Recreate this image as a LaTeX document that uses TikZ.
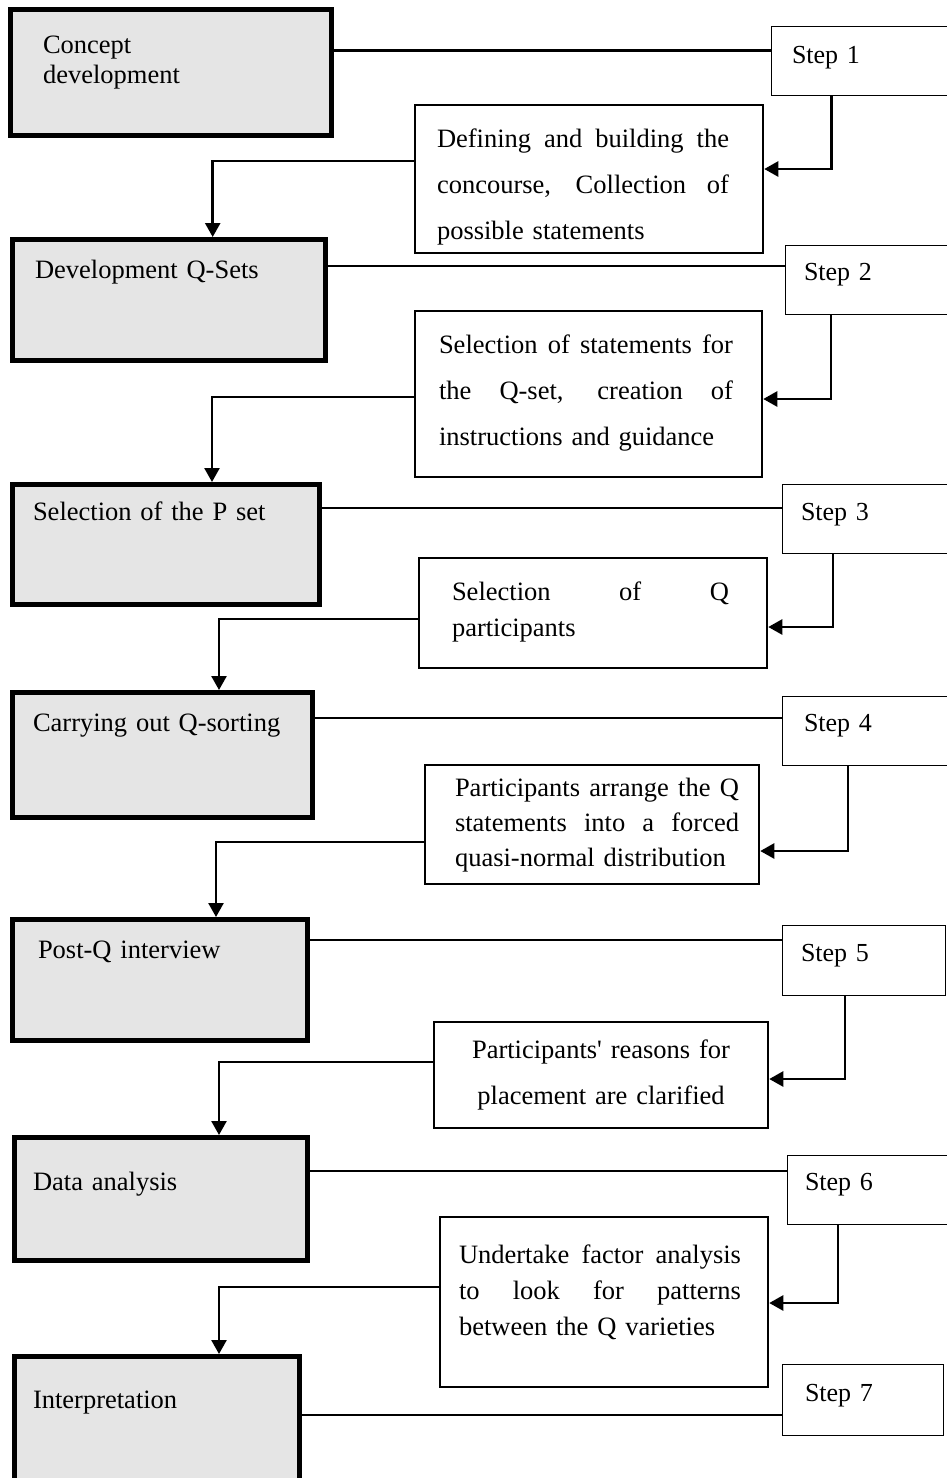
\documentclass[tikz,border=0pt]{standalone}
\usepackage{fontspec}
\setmainfont{Liberation Serif}[WordSpace=0.8]
\usetikzlibrary{arrows.meta}
\definecolor{stagegray}{RGB}{229,229,229}
\newcommand{\jline}[2]{\leavevmode\hbox to #1pt{\spaceskip=.2em plus 1fil\relax #2}}

\begin{document}
\begin{tikzpicture}[x=1pt, y=-1pt,
    stage/.style={draw, line width=5pt, fill=stagegray, anchor=north west, inner ysep=0pt, align=left, font=\fontsize{26.5}{30}\selectfont},
    stepbox/.style={draw, line width=1pt, fill=white, anchor=north west, inner ysep=0pt, align=left, font=\fontsize{26}{30}\selectfont},
    task/.style={draw, line width=2.5pt, fill=white, anchor=north west, inner ysep=0pt, align=left, font=\fontsize{26.5}{46}\selectfont},
    link/.style={line width=2.5pt},
    flow/.style={line width=2.5pt, -{Triangle[length=14pt, width=15pt]}}]
    \useasboundingbox (0,0) rectangle (947,1478);

    % Stages
    \node[stage, inner xsep=32.5pt, text width=256pt, text height=43.5pt, text depth=82.5pt] (g1) at (8,7) {Concept\\development};
    \node[stage, inner xsep=22.5pt, text width=268pt, text height=38.5pt, text depth=82.5pt] (g2) at (10,237) {Development Q-Sets};
    \node[stage, inner xsep=20.5pt, text width=266pt, text height=35.5pt, text depth=84.5pt] (g3) at (10,482) {Selection of the P set};
    \node[stage, inner xsep=20.5pt, text width=259pt, text height=38.5pt, text depth=86.5pt] (g4) at (10,690) {Carrying out Q-sorting};
    \node[stage, inner xsep=25.5pt, text width=244pt, text height=38.5pt, text depth=82.5pt] (g5) at (10,917) {Post-Q interview};
    \node[stage, inner xsep=18.5pt, text width=256pt, text height=52.5pt, text depth=70.5pt] (g6) at (12,1135) {Data analysis};
    \node[stage, inner xsep=18.5pt, text width=248pt, text height=51.5pt, text depth=78.5pt] (g7) at (12,1354) {Interpretation};

    % Steps
    \node[stepbox, inner xsep=20.5pt, text width=139pt, text height=37pt, text depth=32pt] (s1) at (771,25.5) {Step 1};
    \node[stepbox, inner xsep=18.5pt, text width=128pt, text height=34.5pt, text depth=34pt] (s2) at (785,245) {Step 2};
    \node[stepbox, inner xsep=19pt, text width=132pt, text height=36pt, text depth=33pt] (s3) at (781.5,483.5) {Step 3};
    \node[stepbox, inner xsep=22pt, text width=126pt, text height=35pt, text depth=34pt] (s4) at (781.5,695.5) {Step 4};
    \node[stepbox, inner xsep=19pt, text width=125pt, text height=36pt, text depth=34pt] (s5) at (781.5,924.5) {Step 5};
    \node[stepbox, inner xsep=18pt, text width=129pt, text height=35pt, text depth=34pt] (s6) at (786.5,1154.5) {Step 6};
    \node[stepbox, inner xsep=23pt, text width=115pt, text height=37pt, text depth=34pt] (s7) at (781.5,1363.5) {Step 7};

    % Tasks
    \node[task, inner xsep=22pt, text width=304pt, text height=42pt, text depth=106pt] (d1) at (413.75,103.75)
        {\jline{292}{Defining and building the}\\\jline{292}{concourse, Collection of}\\possible statements};
    \node[task, inner xsep=24pt, text width=299pt, text height=42pt, text depth=124pt] (d2) at (413.75,309.75)
        {\jline{294}{Selection of statements for}\\\jline{294}{the Q-set, creation of}\\instructions and guidance};
    \node[task, inner xsep=33pt, text width=282pt, text height=42pt, text depth=68pt, font=\fontsize{26.5}{36}\selectfont] (d3) at (417.75,556.75)
        {\jline{277}{Selection of Q}\\participants};
    \node[task, inner xsep=30pt, text width=274pt, text height=31pt, text depth=88pt, font=\fontsize{26.5}{35}\selectfont] (d4) at (423.75,763.75)
        {\jline{284}{Participants arrange the Q}\\\jline{284}{statements into a forced}\\quasi-normal distribution};
    \node[task, inner xsep=20pt, text width=294pt, text height=36pt, text depth=70pt, align=center] (d5) at (432.75,1020.75)
        {Participants\textquotesingle{} reasons for\\placement are clarified};
    \node[task, inner xsep=19pt, text width=290pt, text height=46pt, text depth=124pt, font=\fontsize{26.5}{36}\selectfont] (d6) at (438.75,1215.75)
        {\jline{282}{Undertake factor analysis}\\\jline{282}{to look for patterns}\\between the Q varieties};

    % Stage to step
    \draw[link] (g1.east |- 0,50.7) -- (s1.west |- 0,50.7);
    \draw[link] (g2.east |- 0,266) -- (s2.west |- 0,266);
    \draw[link] (g3.east |- 0,508) -- (s3.west |- 0,508);
    \draw[link] (g4.east |- 0,718) -- (s4.west |- 0,718);
    \draw[link] (g5.east |- 0,940) -- (s5.west |- 0,940);
    \draw[link] (g6.east |- 0,1171) -- (s6.west |- 0,1171);
    \draw[link] (g7.east |- 0,1415) -- (s7.west |- 0,1415);

    % Step to task
    \draw[flow] (s1.south -| 831.7,0) |- (d1.east |- 0,169);
    \draw[flow] (s2.south -| 831,0) |- (d2.east |- 0,399);
    \draw[flow] (s3.south -| 833,0) |- (d3.east |- 0,627);
    \draw[flow] (s4.south -| 848,0) |- (d4.east |- 0,851);
    \draw[flow] (s5.south -| 845,0) |- (d5.east |- 0,1079);
    \draw[flow] (s6.south -| 838,0) |- (d6.east |- 0,1303);

    % Task to next stage
    \draw[flow] (d1.west |- 0,161) -| (g2.north -| 212.7,0);
    \draw[flow] (d2.west |- 0,397) -| (g3.north -| 212,0);
    \draw[flow] (d3.west |- 0,619) -| (g4.north -| 219,0);
    \draw[flow] (d4.west |- 0,842) -| (g5.north -| 216,0);
    \draw[flow] (d5.west |- 0,1062) -| (g6.north -| 219,0);
    \draw[flow] (d6.west |- 0,1287) -| (g7.north -| 219,0);
\end{tikzpicture}
\end{document}
